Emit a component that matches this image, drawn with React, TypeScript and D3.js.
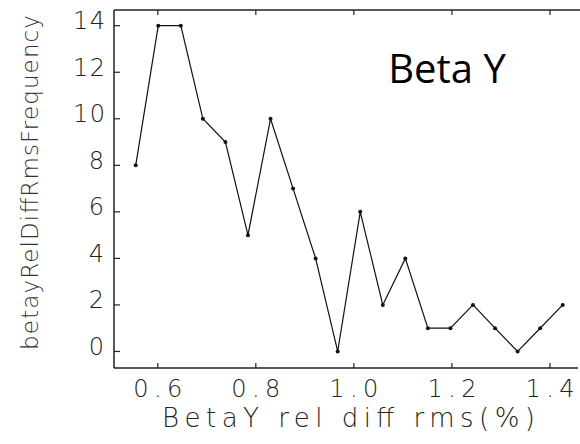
import React from "react";
import * as d3 from "d3";

const xValues = [0.555, 0.601, 0.647, 0.692, 0.738, 0.784, 0.830, 0.876, 0.922, 0.967, 1.013, 1.059, 1.105, 1.151, 1.197, 1.243, 1.288, 1.334, 1.380, 1.426];
const frequency = [8, 14, 14, 10, 9, 5, 10, 7, 4, 0, 6, 2, 4, 1, 1, 2, 1, 0, 1, 2];
const xTicks = [0.6, 0.8, 1.0, 1.2, 1.4];
const yTicks = [0, 2, 4, 6, 8, 10, 12, 14];

const W = 580, H = 444;
const L = 114, R = 578, T = 10, B = 368;

export default function App() {
  const x = d3.scaleLinear().domain([0.5107, 1.4572]).range([L, R]);
  const y = d3.scaleLinear().domain([-0.71, 14.675]).range([B, T]);
  const line = d3.line<number>().x((_, i) => x(xValues[i])).y((d) => y(d));
  const tickFont = "'DejaVu Sans', sans-serif";
  return (
    <svg width={W} height={H} style={{ position: "absolute", left: 0, top: 0, background: "#fff" }}>
      <line x1={L} y1={T} x2={W} y2={T} stroke="#222" strokeWidth={1.5} />
      <line x1={L} y1={T} x2={L} y2={B} stroke="#222" strokeWidth={1.5} />
      <line x1={L} y1={B} x2={R} y2={B} stroke="#222" strokeWidth={1.5} />
      {xTicks.map((t) => (
        <g key={"x" + t}>
          <line x1={x(t)} x2={x(t)} y1={B} y2={B - 5} stroke="#222" strokeWidth={1.2} />
          <line x1={x(t)} x2={x(t)} y1={T} y2={T + 5} stroke="#222" strokeWidth={1.2} />
          <text x={x(t) - 24.5} y={397} fontFamily={tickFont} fontWeight={200} fontSize={24}
            textLength={49} lengthAdjust="spacing" fill="#222">
            {t.toFixed(1)}
          </text>
        </g>
      ))}
      {yTicks.map((t) => (
        <g key={"y" + t}>
          <line x1={L} x2={L + 6} y1={y(t)} y2={y(t)} stroke="#222" strokeWidth={1.2} />
          {t >= 10 ? (
            <text x={73} y={y(t) + 3.5} fontFamily={tickFont} fontWeight={200} fontSize={24}
              textLength={32} lengthAdjust="spacing" fill="#222">
              {t}
            </text>
          ) : (
            <text x={104} y={y(t) + 3.5} textAnchor="end" fontFamily={tickFont} fontWeight={200} fontSize={24} fill="#222">
              {t}
            </text>
          )}
        </g>
      ))}
      <path d={line(frequency) || ""} fill="none" stroke="#111" strokeWidth={1.2} />
      {frequency.map((v, i) => (
        <circle key={i} cx={x(xValues[i])} cy={y(v)} r={2} fill="#111" />
      ))}
      <text x={162} y={427} fontFamily={tickFont} fontWeight={200} fontSize={26}
        textLength={373} lengthAdjust="spacing" fill="#222">
        BetaY rel diff rms(%)
      </text>
      <text transform="translate(38,350) rotate(-90)" fontFamily={tickFont} fontWeight={200} fontSize={23}
        textLength={335} lengthAdjust="spacing" fill="#333">
        betayRelDiffRmsFrequency
      </text>
      <text x={447} y={83} textAnchor="middle" fontFamily="'Open Sans', 'Noto Sans', sans-serif" fontSize={40} fill="#000">
        Beta Y
      </text>
    </svg>
  );
}
